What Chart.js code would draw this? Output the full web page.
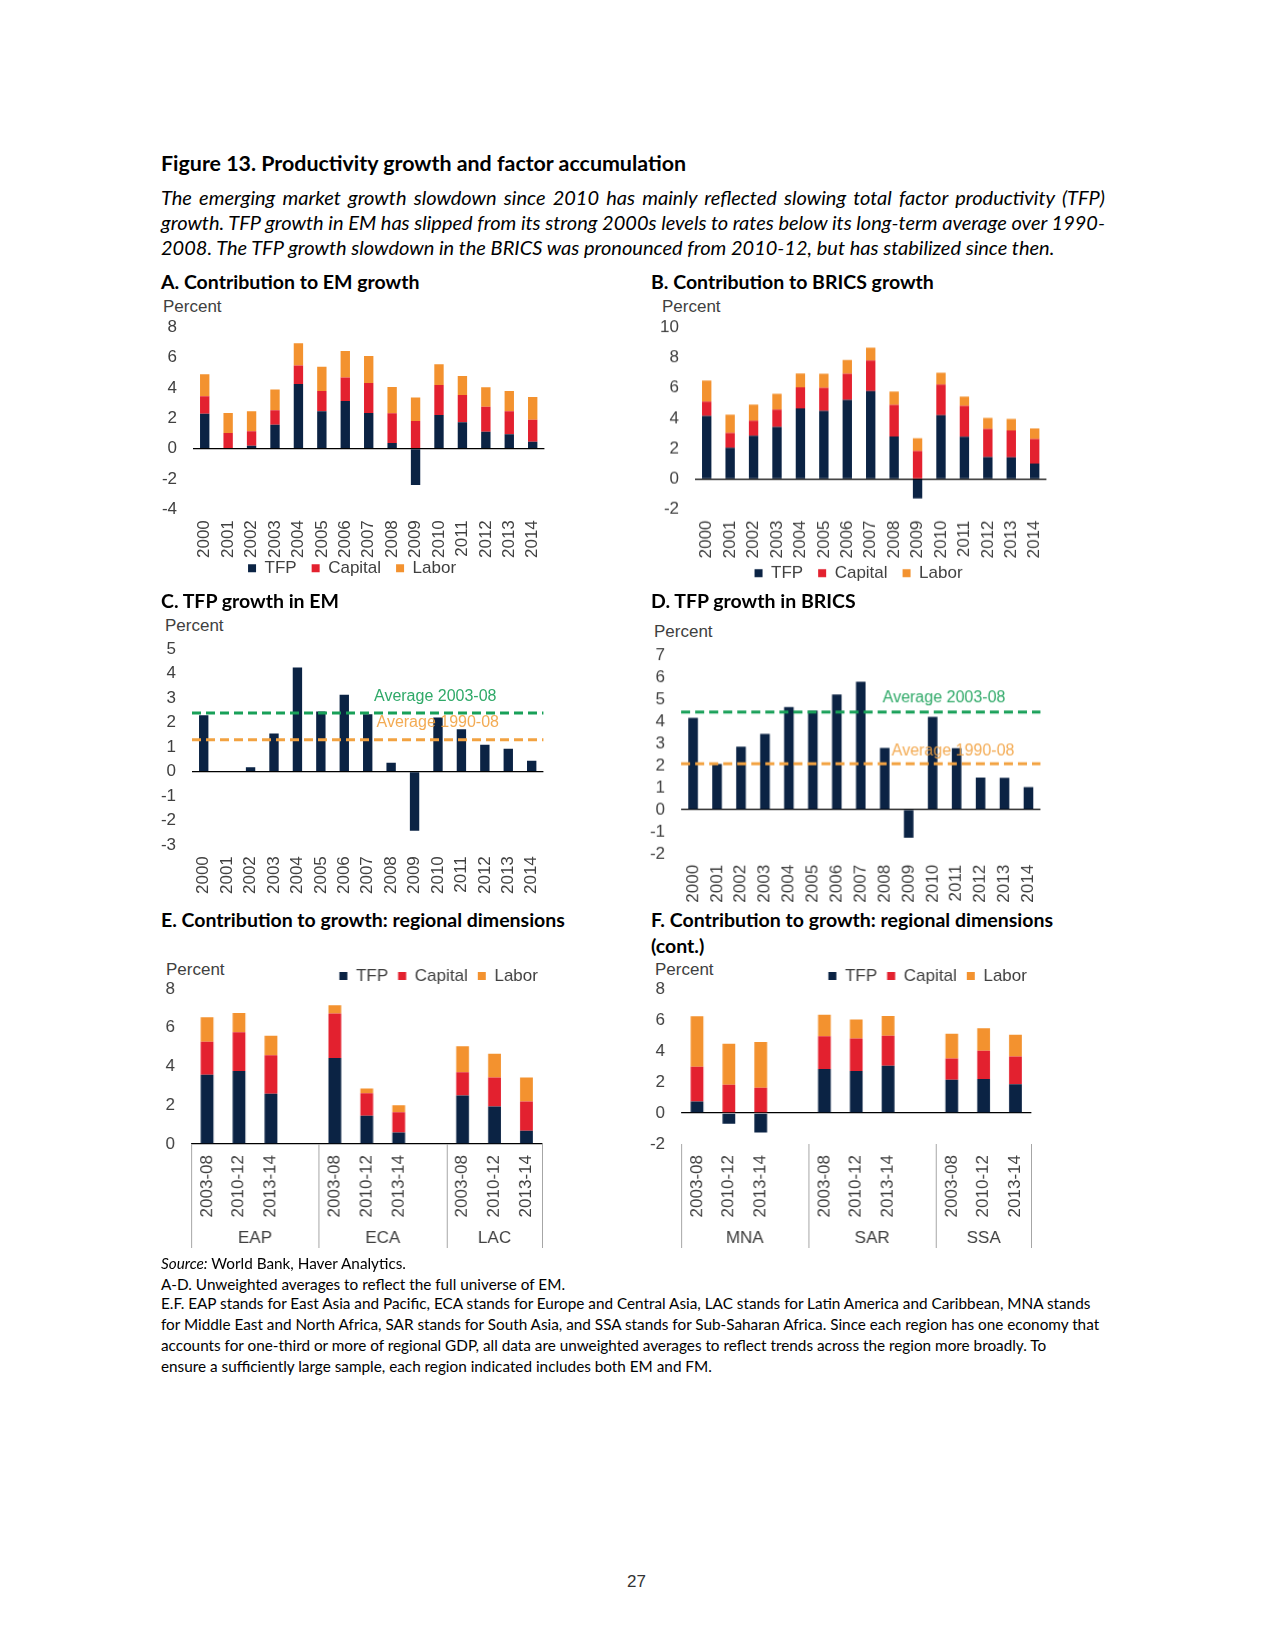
<!DOCTYPE html>
<html>
<head>
<meta charset="utf-8">
<title>Figure 13. Productivity growth and factor accumulation</title>
<script src="https://cdn.jsdelivr.net/npm/chart.js@4.4.1/dist/chart.umd.min.js"></script>
<style>
  body { margin: 0; background: #fff; }
  #page { position: relative; width: 1275px; height: 1650px; font-family: Lato, "Open Sans", sans-serif; color: #000; }
  .txt { position: absolute; white-space: nowrap; line-height: 24px; }
  .title { font-weight: 700; font-size: 21.4px; }
  .panel { font-weight: 700; font-size: 19.5px; }
  .lead { font-style: italic; font-size: 20px; }
  .pct { font-family: "Liberation Sans", Arial, sans-serif; font-size: 17px; color: #404040; }
  .note { font-size: 15.3px; line-height: 20px; }
  .box { position: absolute; }
</style>
</head>
<body>
<div id="page">
  <div class="txt title" style="left:161px;top:151px">Figure 13. Productivity growth and factor accumulation</div>
  <div class="txt lead" data-fit="944" style="left:161px;top:185px">The emerging market growth slowdown since 2010 has mainly reflected slowing total factor productivity (TFP)</div>
  <div class="txt lead" data-fit="944" style="left:161px;top:210px">growth. TFP growth in EM has slipped from its strong 2000s levels to rates below its long-term average over 1990-</div>
  <div class="txt lead" style="left:161px;top:235px">2008. The TFP growth slowdown in the BRICS was pronounced from 2010-12, but has stabilized since then.</div>

  <div class="txt panel" style="left:161px;top:270px">A. Contribution to EM growth</div>
  <div class="txt panel" style="left:651px;top:270px">B. Contribution to BRICS growth</div>
  <div class="txt pct" style="left:163px;top:295px">Percent</div>
  <div class="txt pct" style="left:662px;top:295px">Percent</div>
  <div class="box" style="left:160px;top:300.8px;width:396.1px;height:302.2px"><canvas id="chartA"></canvas></div>
  <div class="box" style="left:655px;top:301.3px;width:403.1px;height:301.7px"><canvas id="chartB"></canvas></div>

  <div class="txt panel" style="left:161px;top:589px">C. TFP growth in EM</div>
  <div class="txt panel" style="left:651px;top:589px">D. TFP growth in BRICS</div>
  <div class="txt pct" style="left:165px;top:614px">Percent</div>
  <div class="txt pct" style="left:654px;top:620px">Percent</div>
  <div class="box" style="left:152px;top:623.3px;width:403.1px;height:277.2px"><canvas id="chartC"></canvas></div>
  <div class="box" style="left:641px;top:629.1px;width:409.9px;height:278.9px"><canvas id="chartD"></canvas></div>

  <div class="txt panel" style="left:161px;top:908px">E. Contribution to growth: regional dimensions</div>
  <div class="txt panel" style="left:651px;top:908px">F. Contribution to growth: regional dimensions</div>
  <div class="txt panel" style="left:651px;top:934px">(cont.)</div>
  <div class="txt pct" style="left:166px;top:958px">Percent</div>
  <div class="txt pct" style="left:655px;top:958px">Percent</div>
  <div class="box" style="left:151px;top:952px;width:397.9px;height:302px"><canvas id="chartE"></canvas></div>
  <div class="box" style="left:641px;top:952px;width:396.9px;height:302px"><canvas id="chartF"></canvas></div>

  <div class="txt note" style="left:161px;top:1253px"><i>Source:</i> World Bank, Haver Analytics.</div>
  <div class="txt note" style="left:161px;top:1274px">A-D. Unweighted averages to reflect the full universe of EM.</div>
  <div class="txt note" style="left:161px;top:1293px">E.F. EAP stands for East Asia and Pacific, ECA stands for Europe and Central Asia, LAC stands for Latin America and Caribbean, MNA stands</div>
  <div class="txt note" style="left:161px;top:1314px">for Middle East and North Africa, SAR stands for South Asia, and SSA stands for Sub-Saharan Africa. Since each region has one economy that</div>
  <div class="txt note" style="left:161px;top:1335px">accounts for one-third or more of regional GDP, all data are unweighted averages to reflect trends across the region more broadly. To</div>
  <div class="txt note" style="left:161px;top:1356px">ensure a sufficiently large sample, each region indicated includes both EM and FM.</div>

  <div class="txt pct" style="left:627px;top:1570px;color:#333">27</div>
</div>

<script>
// data
const years = ['2000', '2001', '2002', '2003', '2004', '2005', '2006', '2007', '2008', '2009', '2010', '2011', '2012', '2013', '2014'];

const emTfp = [2.30, 0.03, 0.18, 1.56, 4.25, 2.46, 3.14, 2.35, 0.37, -2.41, 2.21, 1.73, 1.10, 0.94, 0.45];
const emCapital = [1.14, 1.00, 0.96, 0.96, 1.23, 1.33, 1.55, 1.97, 1.95, 1.82, 1.98, 1.80, 1.66, 1.52, 1.45];
const emLabor = [1.45, 1.32, 1.32, 1.38, 1.47, 1.60, 1.74, 1.78, 1.74, 1.54, 1.36, 1.25, 1.28, 1.33, 1.50];

const bricsTfp = [4.16, 2.07, 2.86, 3.44, 4.65, 4.49, 5.22, 5.80, 2.80, -1.28, 4.21, 2.79, 1.45, 1.44, 1.02];
const bricsCapital = [0.95, 0.97, 0.99, 1.14, 1.39, 1.52, 1.72, 2.02, 2.09, 1.85, 2.02, 2.03, 1.85, 1.76, 1.62];
const bricsLabor = [1.39, 1.21, 1.06, 1.04, 0.92, 0.93, 0.90, 0.84, 0.88, 0.84, 0.77, 0.62, 0.73, 0.76, 0.69];

const emAvg0308 = 2.40;
const emAvg9008 = 1.30;
const bricsAvg0308 = 4.42;
const bricsAvg9008 = 2.08;

const periods = ['2003-08', '2010-12', '2013-14'];
const regionsE = ['EAP', 'ECA', 'LAC'];
const tfpE = [3.58, 3.77, 2.60, 4.44, 1.46, 0.60, 2.50, 1.93, 0.69];
const capitalE = [1.70, 2.00, 1.98, 2.29, 1.16, 1.04, 1.20, 1.50, 1.51];
const laborE = [1.26, 0.99, 1.01, 0.43, 0.24, 0.36, 1.34, 1.23, 1.23];

const regionsF = ['MNA', 'SAR', 'SSA'];
const tfpF = [0.75, -0.69, -1.25, 2.84, 2.71, 3.05, 2.15, 2.19, 1.85];
const capitalF = [2.24, 1.83, 1.63, 2.11, 2.09, 1.94, 1.36, 1.83, 1.80];
const laborF = [3.25, 2.64, 2.95, 1.39, 1.24, 1.27, 1.61, 1.44, 1.40];

// colours
const navy = '#0b2344';
const red = '#e3212f';
const orange = '#f3922f';
const tickColor = '#404040';
const avgGreen = '#18a058';
const avgOrange = '#f2a241';

// stretch the justified lines of the lead paragraph
document.querySelectorAll('[data-fit]').forEach(el => {
  const gaps = (el.textContent.match(/ /g) || []).length;
  const w = el.getBoundingClientRect().width;
  el.style.wordSpacing = ((+el.dataset.fit - w) / gaps) + 'px';
});

Chart.defaults.font.family = '"Liberation Sans", Arial, sans-serif';
Chart.defaults.font.size = 17;
Chart.defaults.color = tickColor;

// dashed average lines with their labels
const avgLines = {
  id: 'avgLines',
  afterDatasetsDraw(chart, args, opts) {
    if (!opts.lines) return;
    const { ctx, chartArea, scales: { y } } = chart;
    opts.lines.forEach(l => {
      const py = y.getPixelForValue(l.value);
      ctx.save();
      ctx.strokeStyle = l.color;
      ctx.lineWidth = 3;
      ctx.setLineDash([9, 5]);
      ctx.beginPath();
      ctx.moveTo(chartArea.left, py);
      ctx.lineTo(chartArea.right, py);
      ctx.stroke();
      ctx.setLineDash([]);
      ctx.globalAlpha = 0.9;
      ctx.fillStyle = l.color;
      ctx.font = '16px "Liberation Sans", Arial, sans-serif';
      ctx.textBaseline = 'middle';
      ctx.fillText(l.label, chartArea.left + l.dx, py - l.dy);
      ctx.restore();
    });
  }
};

// region separators and group names under the period labels
const groupAxis = {
  id: 'groupAxis',
  afterDraw(chart, args, opts) {
    if (!opts.groups) return;
    const { ctx, chartArea, scales: { x } } = chart;
    const n = chart.data.labels.length;
    const edge = i => i <= 0 ? chartArea.left : i >= n ? chartArea.right
      : (x.getPixelForValue(i - 1) + x.getPixelForValue(i)) / 2;
    const edges = [];
    opts.groups.forEach(g => { edges.push(edge(g.start)); edges.push(edge(g.end)); });
    ctx.save();
    ctx.strokeStyle = '#a6a6a6';
    ctx.lineWidth = 1;
    [...new Set(edges.map(Math.round))].forEach(px => {
      ctx.beginPath();
      ctx.moveTo(px + 0.5, chartArea.bottom);
      ctx.lineTo(px + 0.5, chartArea.bottom + opts.depth);
      ctx.stroke();
    });
    ctx.fillStyle = tickColor;
    ctx.font = '17px "Liberation Sans", Arial, sans-serif';
    ctx.textAlign = 'center';
    ctx.textBaseline = 'middle';
    opts.groups.forEach(g => {
      ctx.fillText(g.label, (edge(g.start) + edge(g.end)) / 2, chartArea.bottom + opts.labelOffset);
    });
    ctx.restore();
  }
};

// nudges the legend box after layout so it sits where the original has it
const legendShift = {
  id: 'legendShift',
  afterLayout(chart, args, opts) {
    const lg = chart.legend;
    if (!lg) return;
    const dx = opts.dx || 0, dy = opts.dy || 0;
    lg.left += dx; lg.right += dx;
    lg.top += dy; lg.bottom += dy;
  }
};

function bar(label, data, color) {
  return { label: label, data: data, backgroundColor: color, borderWidth: 0, barPercentage: 0.4, categoryPercentage: 1 };
}

function options(o) {
  return {
    responsive: true,
    maintainAspectRatio: false,
    animation: false,
    layout: { padding: 0 },
    plugins: {
      tooltip: { enabled: false },
      legend: o.legend ? {
        display: true,
        position: o.legend.position,
        align: o.legend.align,
        labels: { boxWidth: 8, boxHeight: 8, padding: o.legend.padding, color: tickColor, font: { size: 17 } }
      } : { display: false },
      legendShift: o.legend ? { dx: o.legend.dx, dy: o.legend.dy } : {},
      avgLines: { lines: o.lines },
      groupAxis: { groups: o.groups, depth: 104, labelOffset: 94 }
    },
    scales: {
      x: {
        stacked: true,
        grid: { display: false },
        border: { display: false },
        ticks: { autoSkip: false, minRotation: 90, maxRotation: 90, padding: 3, color: tickColor },
        afterFit: s => { s.height = o.xHeight; }
      },
      y: {
        stacked: true,
        min: o.min,
        max: o.max,
        border: { display: false },
        grid: {
          drawTicks: false,
          lineWidth: 1.3,
          color: c => (c.tick && c.tick.value === 0) ? '#000' : 'rgba(0,0,0,0)'
        },
        ticks: { stepSize: o.step, autoSkip: false, padding: 16, color: tickColor },
        afterFit: s => { s.width = o.yWidth; }
      }
    }
  };
}

function addGaps(vals, fill) {
  const out = [];
  vals.forEach((v, i) => {
    if (i > 0 && i % periods.length === 0) out.push(fill);
    out.push(v);
  });
  return out;
}

function groupsFor(regions, n) {
  return regions.map((r, k) => ({
    label: r,
    start: k * (periods.length + 1),
    end: Math.min((k + 1) * (periods.length + 1), n)
  }));
}

const plugins = [avgLines, groupAxis, legendShift];

// A. Contribution to EM growth
new Chart(document.getElementById('chartA'), {
  type: 'bar',
  data: {
    labels: years,
    datasets: [bar('TFP', emTfp, navy), bar('Capital', emCapital, red), bar('Labor', emLabor, orange)]
  },
  options: options({ min: -4, max: 8, step: 2, xHeight: 52, yWidth: 33,
    legend: { position: 'bottom', align: 'center', padding: 15, dx: -6, dy: -16.5 } }),
  plugins: plugins
});

// B. Contribution to BRICS growth
new Chart(document.getElementById('chartB'), {
  type: 'bar',
  data: {
    labels: years,
    datasets: [bar('TFP', bricsTfp, navy), bar('Capital', bricsCapital, red), bar('Labor', bricsLabor, orange)]
  },
  options: options({ min: -2, max: 10, step: 2, xHeight: 52, yWidth: 40,
    legend: { position: 'bottom', align: 'center', padding: 15, dx: 2, dy: -12 } }),
  plugins: plugins
});

// C. TFP growth in EM
new Chart(document.getElementById('chartC'), {
  type: 'bar',
  data: { labels: years, datasets: [bar('TFP', emTfp, navy)] },
  options: options({ min: -3, max: 5, step: 1, xHeight: 55, yWidth: 40,
    lines: [
      { value: emAvg0308, color: avgGreen, label: 'Average 2003-08', dx: 182, dy: 16.6 },
      { value: emAvg9008, color: avgOrange, label: 'Average 1990-08', dx: 184.5, dy: 17 }
    ] }),
  plugins: plugins
});

// D. TFP growth in BRICS
new Chart(document.getElementById('chartD'), {
  type: 'bar',
  data: { labels: years, datasets: [bar('TFP', bricsTfp, navy)] },
  options: options({ min: -2, max: 7, step: 1, xHeight: 55, yWidth: 40,
    lines: [
      { value: bricsAvg0308, color: avgGreen, label: 'Average 2003-08', dx: 201, dy: 14 },
      { value: bricsAvg9008, color: avgOrange, label: 'Average 1990-08', dx: 210, dy: 12.3 }
    ] }),
  plugins: plugins
});

// E. regional dimensions
const labelsE = addGaps(regionsE.flatMap(() => periods), '');
new Chart(document.getElementById('chartE'), {
  type: 'bar',
  data: {
    labels: labelsE,
    datasets: [bar('TFP', addGaps(tfpE, null), navy), bar('Capital', addGaps(capitalE, null), red), bar('Labor', addGaps(laborE, null), orange)]
  },
  options: options({ min: 0, max: 8, step: 2, xHeight: 110, yWidth: 40,
    legend: { position: 'top', align: 'end', padding: 10, dx: -2, dy: 5.5 },
    groups: groupsFor(regionsE, labelsE.length) }),
  plugins: plugins
});

// F. regional dimensions (cont.)
const labelsF = addGaps(regionsF.flatMap(() => periods), '');
new Chart(document.getElementById('chartF'), {
  type: 'bar',
  data: {
    labels: labelsF,
    datasets: [bar('TFP', addGaps(tfpF, null), navy), bar('Capital', addGaps(capitalF, null), red), bar('Labor', addGaps(laborF, null), orange)]
  },
  options: options({ min: -2, max: 8, step: 2, xHeight: 110, yWidth: 40,
    legend: { position: 'top', align: 'end', padding: 10, dx: -2, dy: 5.5 },
    groups: groupsFor(regionsF, labelsF.length) }),
  plugins: plugins
});
</script>
</body>
</html>
